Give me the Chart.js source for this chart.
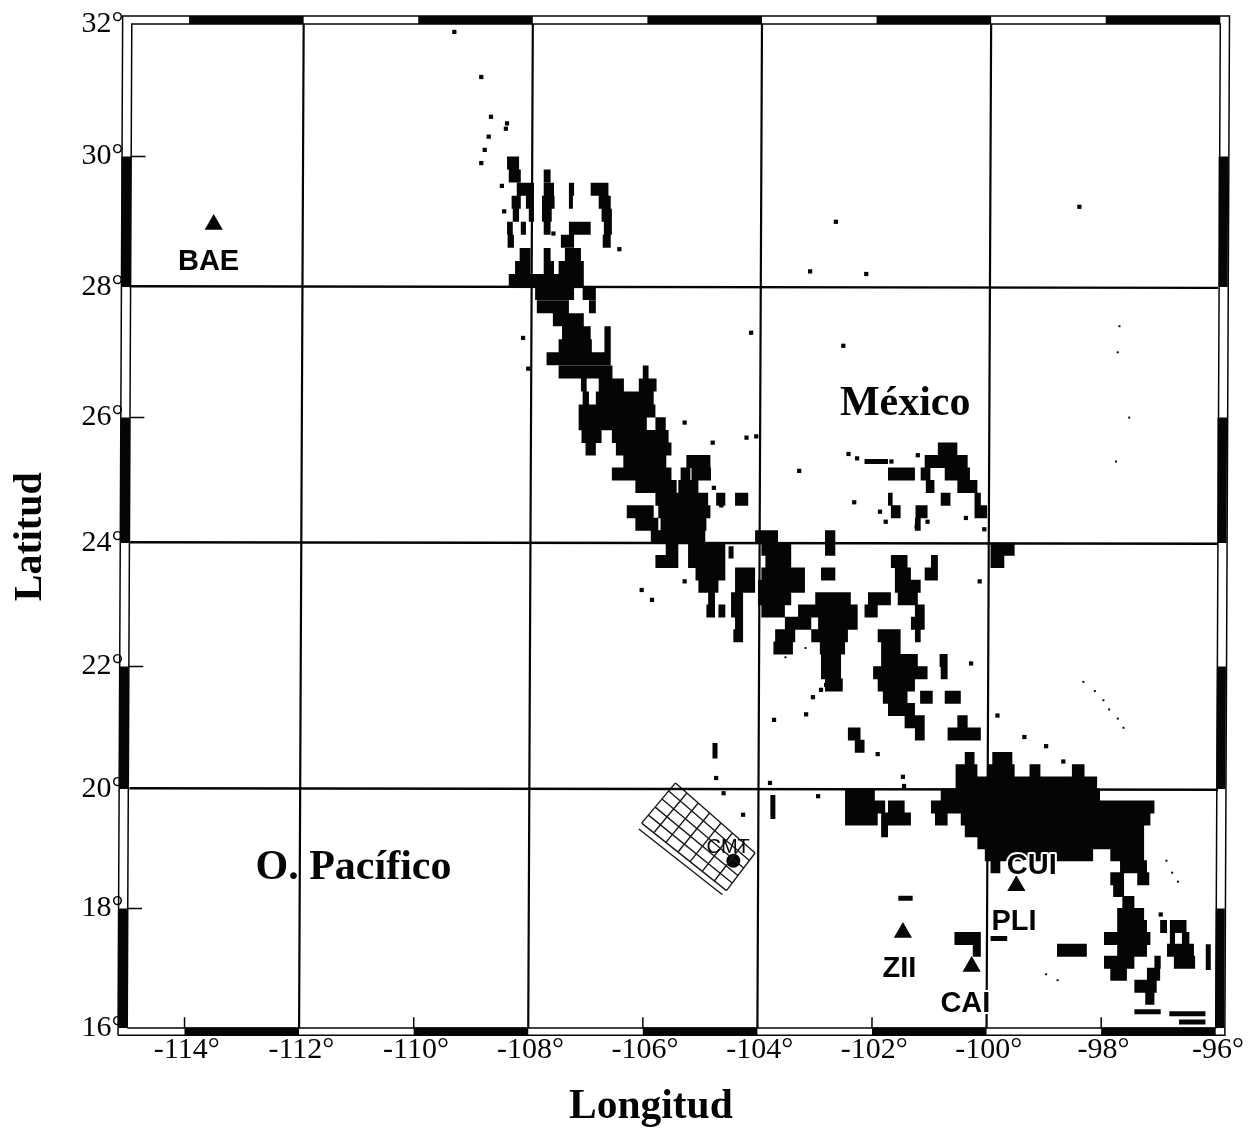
<!DOCTYPE html>
<html><head><meta charset="utf-8"><title>México</title>
<style>html,body{margin:0;padding:0;background:#fff}canvas{display:block}</style>
<script src="https://cdn.jsdelivr.net/npm/chart.js@4"></script></head>
<body><canvas id="c" width="1248" height="1128"></canvas>
<script>
const lonTicks=[-114,-112,-110,-108,-106,-104,-102,-100,-98,-96];
const latTicks=[16,18,20,22,24,26,28,30,32];
const latShare=[0,.119,.238,.360,.483,.608,.738,.868,1];
const meridians=[-112,-108,-104,-100];
const parallels=[20,24,28];
const frameLonBlack=[[-114,-112],[-110,-108],[-106,-104],[-102,-100],[-98,-96]];
const frameLatBlack=[[18,16],[22,20],[26,24],[30,28]];
const minorLon=[-114,-110,-106,-102,-98];
const minorLat=[18,22,26,30];

const stationNames=['BAE','CUI','PLI','ZII','CAI'];
const stationLabelLon=[-113.62,-99.25,-99.56,-101.56,-100.41];
const stationLabelLat=[28.38,18.72,17.78,16.98,16.4];
const triangleLon=[-113.53,-99.52,-101.5,-100.3];
const triangleLat=[28.96,18.38,17.6,17.03];
const placeNames=['México','O. Pacífico'];
const placeLon=[-101.46,-111.09];
const placeLat=[26.2,18.67];
const axisTitleX='Longitud', axisTitleY='Latitud';

const cmtCorners=[[-105.47,20.10],[-104.08,18.93],[-104.58,18.30],[-106.06,19.43]];
const cmtEdge=[[-106.11,19.33],[-104.65,18.23]];
const cmtCells=[7,5];
const cmtPoint=[-104.46,18.80];

// rows of dark terrain: latitude, then west/east longitude pairs
const landRows=[
[29.9,-108.41,-108.20],
[29.7,-108.38,-108.17,-107.77,-107.65],
[29.5,-108.24,-107.94,-107.77,-107.59,-107.33,-107.24,-106.95,-106.64],
[29.3,-108.33,-108.17,-108.08,-107.94,-107.8,-107.58,-107.33,-107.26,-106.81,-106.6],
[29.1,-108.31,-108.2,-108.03,-107.94,-107.8,-107.63,-106.76,-106.58],
[28.9,-108.41,-108.31,-108.17,-108.08,-107.77,-107.65,-107.33,-106.95,-106.72,-106.58],
[28.7,-108.4,-108.29,-107.47,-107.24,-106.74,-106.6],
[28.5,-108.19,-108.0,-107.77,-107.65,-107.4,-107.12],
[28.3,-108.27,-108.0,-107.77,-107.59,-107.51,-107.07],
[28.1,-108.38,-107.07],
[27.9,-107.92,-107.24,-107.09,-106.86],
[27.7,-107.89,-107.33,-106.98,-106.86],
[27.5,-107.61,-107.07],
[27.3,-107.45,-106.95,-106.71,-106.6],
[27.1,-107.51,-106.93,-106.71,-106.6],
[26.9,-107.72,-106.6],
[26.7,-107.51,-106.57,-106.04,-105.94],
[26.5,-107.12,-107.02,-106.81,-106.37,-106.11,-105.8],
[26.3,-107.09,-106.98,-106.86,-105.85],
[26.1,-107.16,-105.82],
[25.9,-107.16,-105.97,-105.82,-105.64],
[25.7,-107.11,-106.76,-106.58,-105.59],
[25.5,-107.04,-106.86,-106.51,-105.54,-100.89,-100.55],
[25.3,-106.38,-105.63,-105.28,-104.86,-101.12,-100.37],
[25.1,-106.58,-105.54,-105.38,-105.21,-105.19,-104.85,-101.76,-101.29,-101.19,-101.02,-100.77,-100.33],
[24.9,-106.17,-105.45,-105.42,-105.07,-101.1,-100.95,-100.55,-100.2],
[24.7,-105.82,-104.9,-104.76,-104.6,-104.43,-104.2,-101.76,-101.68,-100.84,-100.67,-100.25,-100.14],
[24.5,-106.32,-105.85,-105.77,-104.86,-101.71,-101.54,-101.28,-101.07,-100.25,-100.03],
[24.3,-106.17,-105.77,-105.73,-104.93,-101.29,-101.19],
[24.1,-105.9,-104.95,-104.08,-103.68,-102.86,-102.68],
[23.9,-105.64,-105.42,-105.25,-104.6,-103.97,-103.45,-102.86,-102.68,-99.97,-99.55],
[23.7,-105.82,-105.42,-105.25,-104.6,-103.9,-103.45,-101.71,-101.42,-101.01,-100.89,-99.97,-99.73],
[23.5,-105.12,-104.6,-104.43,-104.08,-103.97,-103.21,-102.93,-102.68,-101.64,-101.36,-101.12,-100.89],
[23.3,-105.07,-104.72,-104.43,-104.08,-104.03,-103.21,-101.64,-101.19],
[23.1,-104.9,-104.78,-104.5,-104.29,-104.03,-103.45,-103.03,-102.41,-102.11,-101.71,-101.59,-101.24],
[22.9,-104.93,-104.78,-104.72,-104.6,-104.5,-104.29,-103.97,-103.56,-103.33,-102.29,-102.17,-101.94,-101.29,-101.12],
[22.7,-104.43,-104.29,-103.56,-103.1,-102.98,-102.29,-101.36,-101.12],
[22.5,-104.46,-104.29,-103.73,-103.38,-103.1,-102.46,-101.94,-101.54,-101.29,-101.19],
[22.3,-103.76,-103.42,-102.95,-102.51,-101.88,-101.54],
[22.1,-102.93,-102.58,-101.88,-101.24,-100.86,-100.72],
[21.9,-102.93,-102.58,-102.02,-101.07,-100.84,-100.72],
[21.7,-102.86,-102.55,-101.94,-101.29],
[21.5,-101.85,-101.42,-101.2,-100.98,-100.77,-100.49],
[21.3,-101.76,-101.29],
[21.1,-101.47,-101.12,-100.55,-100.37],
[20.9,-102.46,-102.24,-101.29,-101.12,-100.72,-100.14],
[20.7,-102.34,-102.17],
[20.5,-100.42,-100.25,-99.94,-99.59],
[20.3,-100.58,-100.2,-100.03,-99.55,-99.29,-99.1,-98.55,-98.33],
[20.1,-100.58,-98.11],
[19.9,-102.51,-101.99,-100.84,-98.06],
[19.7,-102.51,-101.81,-101.76,-101.47,-101.01,-97.11],
[19.5,-102.51,-101.94,-101.88,-101.36,-100.94,-100.72,-100.49,-97.18],
[19.3,-101.88,-101.76,-100.42,-97.29],
[19.1,-100.2,-97.29],
[18.9,-100.07,-98.18,-97.88,-97.29],
[18.7,-99.97,-99.8,-97.71,-97.24],
[18.5,-97.88,-97.64,-97.41,-97.2],
[18.3,-97.83,-97.64],
[18.1,-97.67,-97.46],
[17.9,-97.76,-97.29],
[17.7,-97.76,-97.24,-97.01,-96.89,-96.84,-96.55],
[17.5,-100.6,-100.14,-97.99,-97.18,-96.84,-96.75,-96.63,-96.5],
[17.3,-100.28,-100.14,-98.81,-98.29,-97.76,-97.24,-96.89,-96.42],
[17.1,-97.99,-97.46,-97.11,-97.0,-96.77,-96.4],
[16.9,-97.88,-97.59,-97.24,-97.01],
[16.7,-97.46,-97.07],
[16.5,-97.27,-97.11]
];
const thinStrokes=[
[-102.17,25.3,-101.76,25.3],[-97.46,16.27,-97.0,16.27],[-96.85,16.24,-96.22,16.24],[-96.68,16.1,-96.22,16.1],
[-99.97,17.5,-99.68,17.5],[-101.58,18.17,-101.33,18.17],[-104.78,20.75,-104.78,20.5],[-103.77,19.9,-103.77,19.5],
[-104.5,23.95,-104.5,23.75],[-96.17,17.4,-96.17,16.97]
];
const speckLon=[-109.33,-108.86,-108.69,-108.41,-108.43,-108.73,-108.8,-108.86,-108.46,-108.5,-107.6,-106.45,-104.15,-108.13,-108.04,-102.67,-102.14,-103.12,-98.42,-102.54,-105.31,-104.82,-104.23,-104.06,-103.31,-102.35,-104.8,-104.67,-105.31,-106.06,-105.88,-101.9,-101.24,-100.4,-100.08,-100.16,-100.31,-101.07,-101.8,-101.26,-103.75,-103.19,-103.07,-102.93,-102.84,-102.75,-101.94,-104.76,-104.63,-104.29,-103.82,-102.98,-97.0,-96.0,-99.85,-99.38,-99.0,-98.7,-101.5,-101.48,-102.45,-102.3,-101.7];
const speckLat=[31.88,31.2,30.6,30.5,30.42,30.3,30.1,29.9,29.16,29.55,28.82,28.58,27.3,27.22,26.75,29.0,28.2,28.24,29.23,27.1,25.92,25.6,25.68,25.7,25.15,24.65,24.88,24.6,23.38,23.24,23.08,24.5,25.4,24.4,24.22,23.38,22.05,24.34,24.34,24.26,21.13,21.22,21.5,21.62,21.7,21.8,20.57,20.18,19.93,19.57,20.1,19.88,17.9,17.1,21.2,20.85,20.7,20.45,20.2,20.05,25.42,25.35,25.3];
const faintLon=[-97.72,-97.75,-97.55,-97.78,-98.35,-98.15,-98.0,-97.9,-97.75,-97.65,-103.65,-103.55,-103.2,-96.9,-96.8,-96.7,-99.0,-98.8];
const faintLat=[27.4,27.0,26.0,25.3,21.75,21.6,21.45,21.3,21.15,21.0,22.3,22.15,22.3,18.8,18.6,18.45,16.9,16.8];

const lean=lat=>0.04*(lat-24)/8;
const gap={x:NaN,y:NaN};
const merPts=[];meridians.forEach(m=>merPts.push({x:m+lean(16),y:16},{x:m+lean(32),y:32},gap));
const parPts=[];parallels.forEach(p=>parPts.push({x:-115,y:p+0.012},{x:-96,y:p-0.012},gap));
const bandPts=[];
frameLatBlack.forEach(s=>{
  s.forEach(l=>bandPts.push({x:-115.08+lean(l),y:l}));bandPts.push(gap);
  s.forEach(l=>bandPts.push({x:-95.93+lean(l),y:l}));bandPts.push(gap);
});
const bandPtsH=[];
frameLonBlack.forEach(s=>{
  s.forEach(v=>bandPtsH.push({x:v+lean(32),y:32.06}));bandPtsH.push(gap);
  s.forEach(v=>bandPtsH.push({x:v+lean(16),y:15.94}));bandPtsH.push(gap);
});
const rect=(w,e,s,n)=>[{x:w+lean(s),y:s},{x:w+lean(n),y:n},{x:e+lean(n),y:n},{x:e+lean(s),y:s},{x:w+lean(s),y:s},gap];
const thinPts=[...rect(-115,-96,16,32),...rect(-115.16,-95.84,15.88,32.12)];
minorLon.forEach(v=>thinPts.push({x:v+lean(16),y:16},{x:v+lean(16.18),y:16.18},gap));
minorLat.forEach(l=>thinPts.push({x:-115+lean(l),y:l},{x:-114.75+lean(l),y:l},gap));
const landPts=[];
landRows.forEach(r=>{for(let i=1;i<r.length;i+=2){landPts.push({x:r[i],y:r[0]},{x:r[i+1],y:r[0]},gap);}});
const thinLand=[];
thinStrokes.forEach(t=>thinLand.push({x:t[0],y:t[1]},{x:t[2],y:t[3]},gap));
const meshPts=[];
const mix=(a,b,t)=>[a[0]+(b[0]-a[0])*t,a[1]+(b[1]-a[1])*t];
const [A,B,C,D]=cmtCorners;
for(let i=0;i<=cmtCells[0];i++){const t=i/cmtCells[0];const p=mix(A,B,t),q=mix(D,C,t);meshPts.push({x:p[0],y:p[1]},{x:q[0],y:q[1]},gap);}
for(let j=0;j<=cmtCells[1];j++){const t=j/cmtCells[1];const p=mix(A,D,t),q=mix(B,C,t);meshPts.push({x:p[0],y:p[1]},{x:q[0],y:q[1]},gap);}
meshPts.push({x:cmtEdge[0][0],y:cmtEdge[0][1]},{x:cmtEdge[1][0],y:cmtEdge[1][1]});

class LatScale extends Chart.LinearScale{
  share(v){
    const k=latTicks,s=latShare,n=k.length;
    let i=0;
    if(v>=k[n-1])i=n-2;else while(i<n-2&&v>k[i+1])i++;
    return s[i]+(v-k[i])/(k[i+1]-k[i])*(s[i+1]-s[i]);
  }
  getPixelForValue(v){return this.bottom-this.share(v)*(this.bottom-this.top);}
  getValueForPixel(p){
    const f=(this.bottom-p)/(this.bottom-this.top),k=latTicks,s=latShare;
    let i=0;while(i<s.length-2&&f>s[i+1])i++;
    return k[i]+(f-s[i])/(s[i+1]-s[i])*(k[i+1]-k[i]);
  }
}
LatScale.id='latScale';LatScale.defaults=Chart.LinearScale.defaults;
Chart.register(LatScale);

const ink='#050505';
const lineSet=(data,w,color)=>({data,showLine:true,borderColor:color||ink,backgroundColor:color||ink,borderWidth:w,pointRadius:0,pointHoverRadius:0,tension:0,spanGaps:false,borderCapStyle:'butt',clip:false});

const notes={id:'notes',afterDatasetsDraw(ch){
  const c=ch.ctx,x=ch.scales.x,y=ch.scales.y;
  c.save();c.textAlign='center';c.textBaseline='middle';
  const txt=(s,lo,la,f,halo)=>{c.font=f;
    const px=x.getPixelForValue(lo),py=y.getPixelForValue(la);
    if(halo){c.strokeStyle='#fff';c.lineWidth=4;c.lineJoin='round';c.strokeText(s,px,py);}
    c.fillStyle=ink;c.fillText(s,px,py);};
  stationNames.forEach((s,i)=>txt(s,stationLabelLon[i],stationLabelLat[i],'bold 29px "Liberation Sans"',true));
  txt('CMT',-104.55,19.03,'20px "Liberation Sans"',false);
  placeNames.forEach((s,i)=>txt(s,placeLon[i],placeLat[i],'bold 42px "Liberation Serif"',false));
  txt(axisTitleX,-105.9,14.67,'bold 41.5px "Liberation Serif"',false);
  const py=y.getPixelForValue(24.1),px=x.getPixelForValue(-116.73);
  c.translate(px,py);c.rotate(-Math.PI/2);
  c.font='bold 40px "Liberation Serif"';c.fillStyle=ink;c.fillText(axisTitleY,0,0);
  c.restore();
}};

new Chart(document.getElementById('c'),{
  type:'scatter',
  data:{datasets:[
    lineSet(merPts,2.2),
    lineSet(parPts,2.4),
    lineSet(thinPts,1.5),
    lineSet(bandPts,9),
    lineSet(bandPtsH,8),
    lineSet(meshPts,1.4,'#1a1a1a'),
    lineSet(landPts,13),
    lineSet(thinLand,5),
    {data:speckLon.map((v,i)=>({x:v,y:speckLat[i]})),pointStyle:'rect',pointRadius:3,backgroundColor:ink,borderWidth:0,clip:false},
    {data:faintLon.map((v,i)=>({x:v,y:faintLat[i]})),pointStyle:'rect',pointRadius:1.4,backgroundColor:ink,borderWidth:0,clip:false},
    {data:[{x:cmtPoint[0],y:cmtPoint[1]}],pointStyle:'circle',pointRadius:7,backgroundColor:ink,borderWidth:0},
    {data:triangleLon.map((v,i)=>({x:v,y:triangleLat[i]})),pointStyle:'triangle',pointRadius:10.5,backgroundColor:ink,borderWidth:0,clip:false}
  ]},
  options:{
    responsive:false,animation:false,devicePixelRatio:1,
    layout:{padding:{top:20,right:26.5,left:0,bottom:0}},
    plugins:{legend:{display:false},tooltip:{enabled:false},title:{display:false}},
    events:[],
    scales:{
      x:{type:'linear',min:-115,max:-96,position:'bottom',
        afterBuildTicks:s=>{s.ticks=lonTicks.map(v=>({value:v}));},
        afterFit:s=>{s.height=100;},
        grid:{display:false,drawTicks:false},border:{display:false},
        ticks:{autoSkip:false,maxRotation:0,padding:4,color:ink,font:{family:'"Liberation Serif"',size:30},callback:v=>v+'°'}},
      y:{type:'latScale',min:16,max:32,position:'left',
        afterBuildTicks:s=>{s.ticks=latTicks.map(v=>({value:v}));},
        afterFit:s=>{s.width=129.5;},
        grid:{display:false,drawTicks:false},border:{display:false},
        ticks:{autoSkip:false,padding:6,color:ink,font:{family:'"Liberation Serif"',size:30},callback:v=>v+'°'}}
    }
  },
  plugins:[notes]
});
</script></body></html>
